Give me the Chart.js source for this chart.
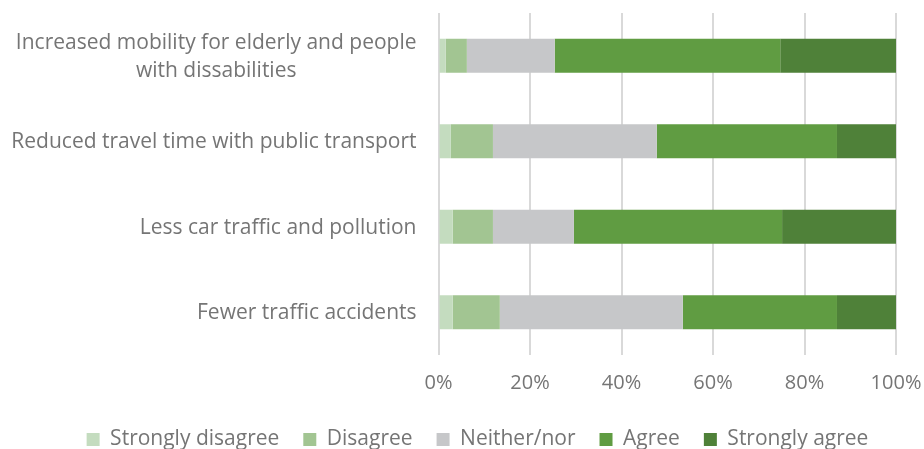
<!DOCTYPE html>
<html>
<head>
<meta charset="utf-8">
<script src="https://cdn.jsdelivr.net/npm/chart.js@4"></script>
<style>
  html, body { margin: 0; padding: 0; background: #fff; overflow: hidden; }
  #wrap { width: 924px; height: 460px; }
</style>
</head>
<body>
<div id="wrap"><canvas id="chart" width="924" height="460"></canvas></div>
<script>
const categories = [
  ['Increased mobility for elderly and people', 'with dissabilities'],
  'Reduced travel time with public transport',
  'Less car traffic and pollution',
  'Fewer traffic accidents'
];
const seriesNames = ['Strongly disagree', 'Disagree', 'Neither/nor', 'Agree', 'Strongly agree'];
const stronglyDisagree = [1.6, 2.7, 3.1, 3.1];
const disagree = [4.6, 9.2, 8.8, 10.3];
const neither = [19.2, 35.8, 17.7, 40.0];
const agree = [49.3, 39.4, 45.5, 33.7];
const stronglyAgree = [25.3, 12.9, 24.9, 12.9];
const xTicks = [0, 20, 40, 60, 80, 100];

const colors = ['#c4dcbf', '#a2c592', '#c6c7c9', '#609c42', '#4f8139'];
const textColor = '#757575';
const fontFamily = '"Open Sans", sans-serif';

const ctx = document.getElementById('chart').getContext('2d');

// y labels are drawn here so wrapped lines stay centred on each other
// while the whole block stays right-aligned against the axis
const categoryLabels = {
  id: 'categoryLabels',
  afterDraw(chart) {
    const yScale = chart.scales.y;
    const c = chart.ctx;
    const rightEdge = chart.chartArea.left - 22;
    const lineH = 28;
    c.save();
    c.font = `21px ${fontFamily}`;
    c.fillStyle = textColor;
    c.textAlign = 'center';
    c.textBaseline = 'middle';
    categories.forEach((lab, i) => {
      const lines = Array.isArray(lab) ? lab : [lab];
      const w = Math.max(...lines.map(l => c.measureText(l).width));
      const cx = rightEdge - w / 2;
      const yc = yScale.getPixelForValue(i) + 1;
      lines.forEach((ln, j) => {
        c.fillText(ln, cx, yc + (j - (lines.length - 1) / 2) * lineH);
      });
    });
    c.restore();
  }
};

const values = [stronglyDisagree, disagree, neither, agree, stronglyAgree];

new Chart(ctx, {
  type: 'bar',
  data: {
    labels: categories,
    datasets: seriesNames.map((name, i) => ({
      label: name,
      data: values[i],
      backgroundColor: colors[i],
      borderWidth: 0,
      categoryPercentage: 1,
      barPercentage: 0.4
    }))
  },
  options: {
    indexAxis: 'y',
    responsive: false,
    animation: false,
    // left padding only shifts the legend; the y axis width is fixed below
    layout: { padding: { top: 13, right: 28, left: 59, bottom: 0 } },
    plugins: {
      tooltip: { enabled: false },
      legend: {
        position: 'bottom',
        labels: {
          boxWidth: 13,
          boxHeight: 13,
          padding: 24,
          color: textColor,
          font: { family: fontFamily, size: 21 }
        }
      }
    },
    scales: {
      x: {
        stacked: true,
        min: 0,
        max: 100,
        afterBuildTicks: scale => { scale.ticks = xTicks.map(v => ({ value: v })); },
        afterFit: scale => {
          scale.height = 50;
          scale.paddingLeft = 0;
          scale.paddingRight = 0;
        },
        grid: { color: '#d9d9d9', lineWidth: 2, drawTicks: false },
        border: { display: false },
        ticks: {
          padding: 16,
          color: textColor,
          font: { family: fontFamily, size: 20 },
          callback: v => v + '%'
        }
      },
      y: {
        stacked: true,
        afterFit: scale => { scale.width = 438.5 - 59; },
        grid: { display: false },
        border: { display: false },
        ticks: { display: false }
      }
    }
  },
  plugins: [categoryLabels]
});
</script>
</body>
</html>
